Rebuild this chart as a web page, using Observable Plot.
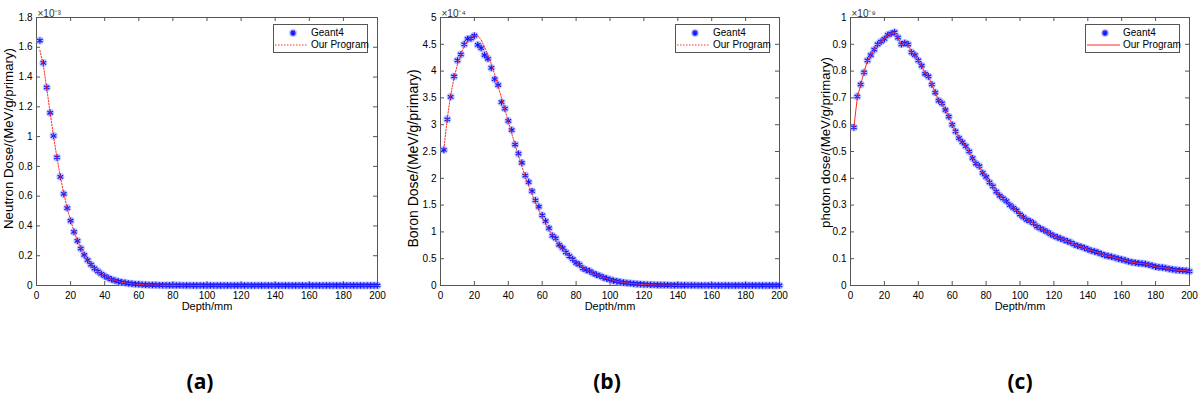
<!DOCTYPE html>
<html>
<head>
<meta charset="utf-8">
<script src="https://cdn.jsdelivr.net/npm/d3@7"></script>
<script src="https://cdn.jsdelivr.net/npm/@observablehq/plot@0.6"></script>
<style>
  html, body { margin: 0; padding: 0; background: #fff; }
  body { width: 1200px; height: 399px; overflow: hidden; font-family: "Liberation Sans", Arial, sans-serif; }
  #row { display: flex; width: 1200px; height: 320px; }
  .panel { position: relative; width: 400px; height: 320px; }
  .legend { position: absolute; border: 1px solid #555; background: #fff; font-size: 10px; color: #000; box-sizing: border-box; }
  .legend .item { position: absolute; left: 0; height: 12px; width: 100%; }
  .legend .item svg { position: absolute; left: 0; top: 0; }
  .legend .item span { position: absolute; left: 37px; top: 0; line-height: 12px; white-space: nowrap; }
  #labels { position: relative; width: 1200px; height: 79px; }
  .plabel { position: absolute; top: 47px; font-family: "Open Sans", "Liberation Sans", sans-serif; font-weight: bold; font-size: 21px; transform: translateX(-50%); color: #000; }
</style>
</head>
<body>
<div id="row"></div>
<div id="labels"></div>
<script>
// ---------- data ----------
const depth = [2,4,6,8,10,12,14,16,18,20,22,24,26,28,30,32,34,36,38,40,42,44,46,48,50,52,54,56,58,60,62,64,66,68,70,72,74,76,78,80,82,84,86,88,90,92,94,96,98,100,102,104,106,108,110,112,114,116,118,120,122,124,126,128,130,132,134,136,138,140,142,144,146,148,150,152,154,156,158,160,162,164,166,168,170,172,174,176,178,180,182,184,186,188,190,192,194,196,198,200];

// (a) Neutron dose, units of 1e-3 MeV/g/primary
const neutronGeant4 = [1.645,1.495,1.33,1.16,1.005,0.86,0.73,0.615,0.52,0.435,0.36,0.30,0.248,0.205,0.17,0.14,0.115,0.095,0.078,0.063,0.051,0.041,0.033,0.027,0.022,0.018,0.014,0.012,0.009,0.008,0.006,0.005,0.004,0.0035,0.003,0.0025,0.002,0.0017,0.0014,0.0012,0.001,0.0009,0.0008,0.0007,0.0006,0.0005,0.0005,0.0004,0.0004,0.0003,0.0003,0.0003,0.0003,0.0003,0.0002,0.0002,0.0002,0.0002,0.0002,0.0002,0.0002,0.0002,0.0001,0.0001,0.0001,0.0001,0.0001,0.0001,0.0001,0.0001,0.0001,0.0001,0.0001,0.0001,0.0001,0.0001,0.0001,0.0001,0.0001,0.0001,0.0001,0.0001,0.0001,0.0001,0.0001,0.0001,0.0001,0.0001,0.0001,0.0001,0.0001,0.0001,0.0001,0.0001,0.0001,0.0001,0.0001,0.0001,0.0001,0.0001];
const neutronProgram = [1.58,1.48,1.325,1.16,1.0,0.86,0.73,0.617,0.52,0.437,0.365,0.303,0.25,0.207,0.171,0.141,0.116,0.095,0.078,0.064,0.052,0.042,0.034,0.028,0.022,0.018,0.015,0.012,0.0095,0.008,0.006,0.005,0.004,0.0035,0.003,0.0025,0.002,0.0017,0.0014,0.0012,0.001,0.0009,0.0008,0.0007,0.0006,0.0005,0.0005,0.0004,0.0004,0.0003,0.0003,0.0003,0.0003,0.0003,0.0002,0.0002,0.0002,0.0002,0.0002,0.0002,0.0002,0.0002,0.0001,0.0001,0.0001,0.0001,0.0001,0.0001,0.0001,0.0001,0.0001,0.0001,0.0001,0.0001,0.0001,0.0001,0.0001,0.0001,0.0001,0.0001,0.0001,0.0001,0.0001,0.0001,0.0001,0.0001,0.0001,0.0001,0.0001,0.0001,0.0001,0.0001,0.0001,0.0001,0.0001,0.0001,0.0001,0.0001,0.0001,0.0001];

// (b) Boron dose, units of 1e-4 MeV/g/primary
const boronGeant4 = [2.53,3.10,3.52,3.90,4.20,4.31,4.50,4.60,4.61,4.66,4.49,4.43,4.30,4.23,4.06,3.85,3.74,3.42,3.30,3.07,2.90,2.63,2.46,2.29,2.05,1.93,1.76,1.59,1.47,1.31,1.20,1.07,0.93,0.88,0.76,0.70,0.62,0.55,0.49,0.42,0.39,0.32,0.29,0.27,0.23,0.20,0.18,0.15,0.13,0.11,0.09,0.08,0.065,0.055,0.047,0.04,0.034,0.029,0.024,0.02,0.017,0.014,0.012,0.01,0.009,0.008,0.007,0.006,0.005,0.0045,0.004,0.0035,0.003,0.0027,0.0024,0.002,0.0018,0.0016,0.0015,0.0013,0.0012,0.0011,0.001,0.0009,0.0008,0.0008,0.0007,0.0006,0.0006,0.0005,0.0005,0.0004,0.0004,0.0004,0.0003,0.0003,0.0003,0.0002,0.0002,0.0002];
const boronProgram = [2.55,3.12,3.55,3.88,4.12,4.32,4.47,4.57,4.63,4.66,4.66,4.58,4.45,4.30,4.13,3.93,3.72,3.50,3.28,3.06,2.84,2.62,2.42,2.22,2.03,1.86,1.70,1.55,1.40,1.27,1.15,1.04,0.94,0.84,0.76,0.68,0.61,0.55,0.49,0.43,0.385,0.34,0.30,0.265,0.23,0.20,0.175,0.15,0.13,0.11,0.095,0.08,0.067,0.057,0.048,0.041,0.035,0.029,0.024,0.02,0.017,0.014,0.012,0.01,0.009,0.008,0.007,0.006,0.005,0.0045,0.004,0.0035,0.003,0.0027,0.0024,0.002,0.0018,0.0016,0.0015,0.0013,0.0012,0.0011,0.001,0.0009,0.0008,0.0008,0.0007,0.0006,0.0006,0.0005,0.0005,0.0004,0.0004,0.0004,0.0003,0.0003,0.0003,0.0002,0.0002,0.0002];

// (c) Photon dose, units of 1e-9 MeV/g/primary
const photonGeant4 = [0.59,0.705,0.75,0.795,0.84,0.86,0.88,0.90,0.91,0.92,0.935,0.94,0.945,0.925,0.90,0.905,0.90,0.87,0.86,0.84,0.82,0.79,0.78,0.75,0.72,0.69,0.68,0.655,0.63,0.60,0.575,0.55,0.535,0.52,0.50,0.475,0.455,0.445,0.42,0.405,0.385,0.37,0.35,0.335,0.325,0.315,0.30,0.29,0.28,0.265,0.255,0.245,0.24,0.232,0.22,0.213,0.207,0.20,0.192,0.185,0.18,0.175,0.17,0.165,0.16,0.153,0.148,0.145,0.14,0.135,0.13,0.127,0.123,0.118,0.113,0.11,0.107,0.104,0.10,0.097,0.094,0.09,0.087,0.085,0.083,0.082,0.08,0.077,0.074,0.07,0.068,0.067,0.065,0.062,0.06,0.058,0.057,0.056,0.055,0.053];
const photonProgram = [0.59,0.70,0.75,0.795,0.84,0.86,0.88,0.90,0.91,0.92,0.935,0.94,0.945,0.925,0.898,0.905,0.90,0.87,0.86,0.84,0.82,0.79,0.78,0.75,0.72,0.69,0.68,0.655,0.63,0.60,0.575,0.55,0.535,0.52,0.50,0.475,0.455,0.445,0.42,0.405,0.385,0.37,0.35,0.335,0.325,0.315,0.30,0.29,0.28,0.265,0.255,0.245,0.24,0.232,0.22,0.213,0.207,0.20,0.192,0.185,0.18,0.175,0.17,0.165,0.16,0.153,0.148,0.145,0.14,0.135,0.13,0.127,0.123,0.118,0.113,0.11,0.107,0.104,0.10,0.097,0.094,0.09,0.087,0.085,0.083,0.082,0.08,0.077,0.074,0.07,0.068,0.067,0.065,0.062,0.06,0.058,0.057,0.056,0.055,0.053];

const xTicks = [0,20,40,60,80,100,120,140,160,180,200];
const yTicksA = [0,0.2,0.4,0.6,0.8,1,1.2,1.4,1.6,1.8];
const yTicksB = [0,0.5,1,1.5,2,2.5,3,3.5,4,4.5,5];
const yTicksC = [0,0.1,0.2,0.3,0.4,0.5,0.6,0.7,0.8,0.9,1];

const xLabel = "Depth/mm";
const seriesNames = ["Geant4", "Our Program"];
const panels = [
  {id: "(a)", yLabel: "Neutron Dose/(MeV/g/primary)", exp: "×10⁻³", pts: neutronGeant4, line: neutronProgram, yDomain: [0, 1.8], yTicks: yTicksA, dashed: true, ml: 36, mr: 23, ylDx: -28, ylDy: -13, ylSize: 13.3, labelX: 200},
  {id: "(b)", yLabel: "Boron Dose/(MeV/g/primary)", exp: "×10⁻⁴", pts: boronGeant4, line: boronProgram, yDomain: [0, 5], yTicks: yTicksB, dashed: true, ml: 40, mr: 21, ylDx: -27, ylDy: 7, ylSize: 14, labelX: 607},
  {id: "(c)", yLabel: "photon dose/(MeV/g/primary)", exp: "×10⁻⁹", pts: photonGeant4, line: photonProgram, yDomain: [0, 1], yTicks: yTicksC, dashed: false, ml: 50, mr: 11, ylDx: -25, ylDy: -9, ylSize: 13.2, labelX: 1020}
];

// ---------- drawing ----------
const W = 400, H = 320, MT = 17, MB = 35;
const row = document.getElementById("row");
const labels = document.getElementById("labels");
const axisColor = "#555";
const fmt = d => String(+d.toFixed(2));

panels.forEach(p => {
  const plotW = W - p.ml - p.mr, plotH = H - MT - MB;
  const pts = depth.map((x, i) => ({x, y: p.pts[i]}));
  const ln = depth.map((x, i) => ({x, y: p.line[i]}));
  const chart = Plot.plot({
    width: W, height: H,
    marginLeft: p.ml, marginRight: p.mr, marginTop: MT, marginBottom: MB,
    style: {fontFamily: "'Liberation Sans', Arial, sans-serif", fontSize: "10px", color: "#000", background: "#fff"},
    x: {domain: [0, 200]},
    y: {domain: p.yDomain},
    marks: [
      Plot.frame({stroke: axisColor}),
      Plot.tickX(xTicks, {x: d => d, insetTop: plotH - 4, stroke: axisColor}),
      Plot.tickX(xTicks, {x: d => d, insetBottom: plotH - 4, stroke: axisColor}),
      Plot.tickY(p.yTicks, {y: d => d, insetRight: plotW - 4, stroke: axisColor}),
      Plot.tickY(p.yTicks, {y: d => d, insetLeft: plotW - 4, stroke: axisColor}),
      Plot.axisX(xTicks, {tickSize: 0, tickPadding: 6, tickFormat: fmt, label: null, fill: "#000"}),
      Plot.axisY(p.yTicks, {tickSize: 0, tickPadding: 4, tickFormat: fmt, label: null, fill: "#000"}),
      Plot.text([xLabel], {frameAnchor: "bottom", dy: 24, fontSize: 11, fill: "#000"}),
      Plot.text([p.yLabel], {frameAnchor: "left", textAnchor: "middle", rotate: -90, dx: p.ylDx, dy: p.ylDy, fontSize: p.ylSize, fill: "#000"}),
      Plot.text([p.exp], {frameAnchor: "top-left", textAnchor: "start", dx: 1, dy: -8, fontSize: 10, fill: "#333"}),
      Plot.dot(pts, {x: "x", y: "y", r: 4, fill: "#8f9cff", fillOpacity: 0.55, stroke: "none"}),
      Plot.dot(pts, {x: "x", y: "y", r: 3, symbol: "asterisk", stroke: "#1515ff", strokeWidth: 1.2}),
      Plot.line(ln, {x: "x", y: "y", stroke: "#ff2a2a", strokeWidth: 1, strokeDasharray: p.dashed ? "1.5,1.5" : null})
    ]
  });
  const panel = document.createElement("div");
  panel.className = "panel";
  panel.appendChild(chart);

  // legend box inside the axes, top-right
  const lg = document.createElement("div");
  lg.className = "legend";
  const lw = 95, lh = 29;
  lg.style.width = lw + "px";
  lg.style.height = lh + "px";
  lg.style.left = (W - p.mr - 9 - lw) + "px";
  lg.style.top = "24px";
  const dash = p.dashed ? 'stroke-dasharray="1.5,1.5"' : '';
  lg.innerHTML =
    `<div class="item" style="top:2px"><svg width="36" height="12"><circle cx="19" cy="6" r="4" fill="#8f9cff" fill-opacity="0.55"/><path d="M16,6h6M19,3v6M17,4l4,4M21,4l-4,4" stroke="#1515ff" stroke-width="1.2"/></svg><span>${seriesNames[0]}</span></div>` +
    `<div class="item" style="top:14px"><svg width="36" height="12"><line x1="1" x2="34" y1="6" y2="6" stroke="#ff2a2a" stroke-width="1" ${dash}/></svg><span>${seriesNames[1]}</span></div>`;
  panel.appendChild(lg);
  row.appendChild(panel);

  const lab = document.createElement("div");
  lab.className = "plabel";
  lab.style.left = p.labelX + "px";
  lab.textContent = p.id;
  labels.appendChild(lab);
});
</script>
</body>
</html>
